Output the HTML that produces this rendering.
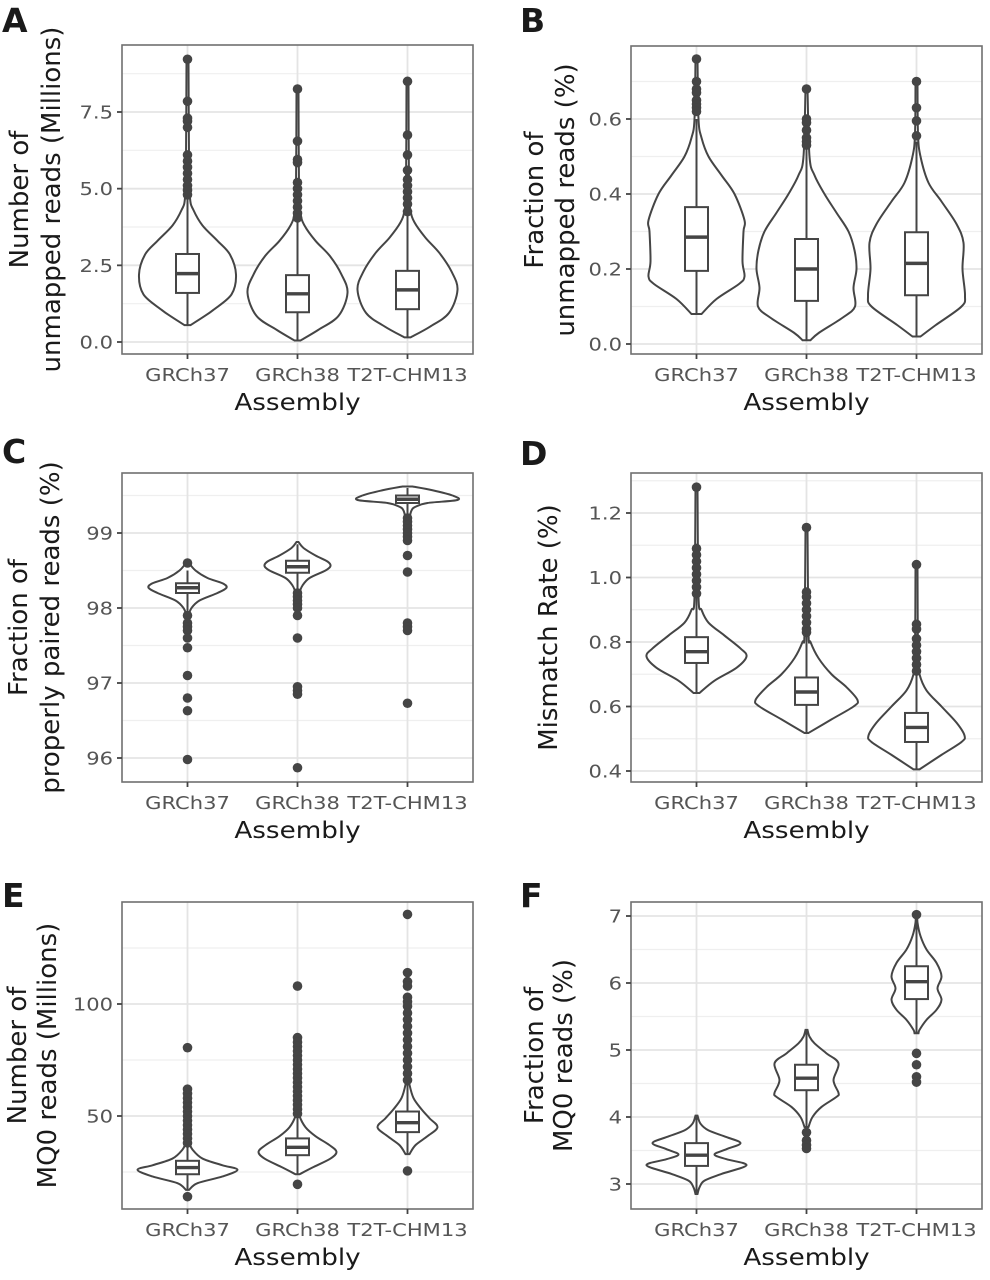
<!DOCTYPE html>
<html>
<head>
<meta charset="utf-8">
<style>
html,body{margin:0;padding:0;background:#fff;}
svg{display:block;}
text{font-family:"DejaVu Sans","Liberation Sans",sans-serif;}
</style>
</head>
<body>
<svg id="fig" width="990" height="1280" viewBox="0 0 990 1280" xmlns="http://www.w3.org/2000/svg"></svg>
<script>
// ---------- DATA ----------
const categories = ["GRCh37","GRCh38","T2T-CHM13"];

// Panel A: Number of unmapped reads (Millions)
const A_ticks = [0.0, 2.5, 5.0, 7.5];
const A_tickLabels = ["0.0","2.5","5.0","7.5"];
const A_box = [[1.6,2.23,2.87,0.55,4.75],[0.97,1.57,2.18,0.05,4.0],[1.07,1.7,2.32,0.15,4.2]];
const A_out = [[9.22,7.85,7.3,7.2,7.0,6.1,5.9,5.7,5.5,5.3,5.1,4.95,4.8],
               [8.25,6.55,5.95,5.85,5.2,5.0,4.8,4.6,4.4,4.2,4.05],
               [8.5,6.75,6.1,5.6,5.3,5.1,4.9,4.7,4.5,4.25]];
const A_violin = [
 [[0.55,0.06],[0.8,0.3],[1.05,0.52],[1.55,0.88],[2.2,0.97],[2.85,0.85],[3.3,0.6],[3.8,0.3],[4.3,0.12],[4.7,0.05],[6,0.03],[9.22,0.02]],
 [[0.05,0.06],[0.4,0.42],[0.85,0.82],[1.6,1.0],[2.2,0.88],[2.8,0.65],[3.3,0.36],[3.8,0.14],[4.2,0.06],[5,0.03],[8.25,0.02]],
 [[0.15,0.06],[0.5,0.45],[0.95,0.83],[1.7,1.0],[2.3,0.88],[2.9,0.64],[3.4,0.36],[3.9,0.14],[4.3,0.06],[5,0.03],[8.5,0.02]]
];

// Panel B: Fraction of unmapped reads (%)
const B_ticks = [0.0,0.2,0.4,0.6];
const B_tickLabels = ["0.0","0.2","0.4","0.6"];
const B_box = [[0.195,0.285,0.365,0.08,0.6],[0.115,0.2,0.28,0.01,0.52],[0.13,0.215,0.298,0.02,0.54]];
const B_out = [[0.76,0.70,0.68,0.67,0.65,0.64,0.63,0.62],
               [0.68,0.60,0.59,0.57,0.55,0.54,0.53],
               [0.70,0.63,0.595,0.555]];
const B_violin = [
 [[0.08,0.1],[0.12,0.4],[0.16,0.85],[0.18,0.96],[0.22,0.92],[0.3,0.94],[0.33,0.96],[0.4,0.76],[0.45,0.5],[0.5,0.24],[0.55,0.1],[0.6,0.04],[0.76,0.02]],
 [[0.01,0.08],[0.03,0.25],[0.07,0.72],[0.1,0.97],[0.15,0.94],[0.2,1.0],[0.25,0.96],[0.3,0.84],[0.35,0.6],[0.4,0.36],[0.45,0.16],[0.5,0.06],[0.68,0.02]],
 [[0.02,0.08],[0.05,0.38],[0.1,0.9],[0.13,0.97],[0.2,0.92],[0.27,0.94],[0.32,0.8],[0.38,0.5],[0.43,0.24],[0.5,0.08],[0.56,0.03],[0.70,0.02]]
];

// Panel C: Fraction of properly paired reads (%)
const C_ticks = [96,97,98,99];
const C_tickLabels = ["96","97","98","99"];
const C_box = [[98.2,98.27,98.33,97.95,98.5],[98.47,98.55,98.63,98.25,98.85],[99.4,99.45,99.5,99.22,99.6]];
const C_out = [[98.6,97.9,97.8,97.75,97.7,97.6,97.47,97.1,96.8,96.63,95.98],
               [98.2,98.15,98.1,98.05,98.0,97.9,97.6,96.95,96.9,96.85,95.87],
               [99.2,99.15,99.1,99.05,99.0,98.95,98.9,98.7,98.48,97.8,97.75,97.7,96.73]];
const C_violin = [
 [[97.9,0.02],[98.0,0.08],[98.1,0.24],[98.2,0.6],[98.27,0.78],[98.33,0.7],[98.4,0.4],[98.5,0.16],[98.6,0.03]],
 [[98.1,0.03],[98.2,0.04],[98.3,0.1],[98.4,0.24],[98.5,0.56],[98.56,0.66],[98.62,0.6],[98.7,0.36],[98.8,0.12],[98.88,0.02]],
 [[99.2,0.04],[99.3,0.08],[99.35,0.16],[99.4,0.4],[99.44,1.0],[99.5,0.9],[99.57,0.5],[99.62,0.1]]
];

// Panel D: Mismatch Rate (%)
const D_ticks = [0.4,0.6,0.8,1.0,1.2];
const D_tickLabels = ["0.4","0.6","0.8","1.0","1.2"];
const D_box = [[0.735,0.77,0.815,0.645,0.94],[0.605,0.645,0.69,0.52,0.83],[0.49,0.535,0.58,0.405,0.71]];
const D_out = [[1.28,1.09,1.07,1.05,1.03,1.01,0.99,0.97,0.95],
               [1.155,0.955,0.94,0.92,0.9,0.88,0.86,0.84,0.83],
               [1.04,0.855,0.84,0.81,0.79,0.77,0.75,0.73,0.71]];
const D_violin = [
 [[0.642,0.06],[0.68,0.36],[0.72,0.8],[0.755,1.0],[0.78,0.88],[0.82,0.56],[0.86,0.24],[0.9,0.1],[0.94,0.04],[1.28,0.02]],
 [[0.518,0.04],[0.56,0.5],[0.6,0.94],[0.62,1.02],[0.66,0.8],[0.7,0.5],[0.75,0.24],[0.8,0.08],[0.83,0.04],[1.155,0.02]],
 [[0.405,0.06],[0.45,0.5],[0.49,0.9],[0.51,0.96],[0.55,0.8],[0.6,0.5],[0.65,0.2],[0.7,0.06],[0.75,0.03],[1.04,0.02]]
];

// Panel E: Number of MQ0 reads (Millions)
const E_ticks = [50,100];
const E_tickLabels = ["50","100"];
const E_minor = [25,75,125];
const E_box = [[24,27,30,17,38],[32.5,36,40,24,50],[42.8,47,52,33,66]];
const E_out = [[14,80.5,62,60,58,56,54,52,50,48,46,44,42,40,38],
               [19.5,108,85,83,81,79,77,75,73,71,69,67,65,63,61,59,57,55,53,51],
               [25.5,140,114,110,108,103,101,99,96,93,90,87,84,81,78,75,72,69,66]];
const E_violin = [
 [[17,0.03],[20,0.2],[23,0.7],[26,1.0],[28,0.7],[31,0.3],[35,0.1],[38,0.04],[40,0.02]],
 [[24,0.04],[27,0.3],[31,0.66],[34,0.78],[37,0.64],[41,0.36],[45,0.16],[50,0.04],[54,0.02]],
 [[33,0.04],[37,0.16],[41,0.4],[45,0.6],[49,0.44],[53,0.28],[58,0.12],[64,0.04],[68,0.02]]
];

// Panel F: Fraction of MQ0 reads (%)
const F_ticks = [3,4,5,6,7];
const F_tickLabels = ["3","4","5","6","7"];
const F_box = [[3.27,3.43,3.61,2.85,4.02],[4.4,4.58,4.78,3.85,5.3],[5.76,6.02,6.25,5.25,6.9]];
const F_out = [[],[3.77,3.65,3.58,3.53],[7.02,4.95,4.78,4.6,4.52]];
const F_violin = [
 [[2.85,0.02],[2.95,0.06],[3.05,0.16],[3.15,0.5],[3.28,1.0],[3.37,0.6],[3.44,0.36],[3.52,0.6],[3.61,0.88],[3.7,0.6],[3.8,0.24],[3.9,0.08],[4.02,0.02]],
 [[3.85,0.04],[4.0,0.12],[4.15,0.3],[4.3,0.6],[4.36,0.64],[4.55,0.54],[4.8,0.64],[4.95,0.4],[5.1,0.16],[5.2,0.06],[5.3,0.02]],
 [[5.25,0.04],[5.3,0.06],[5.45,0.2],[5.6,0.4],[5.75,0.5],[5.92,0.42],[6.1,0.5],[6.3,0.4],[6.5,0.2],[6.7,0.08],[6.9,0.02],[7.02,0.02]]
];

// ---------- LAYOUT ----------
const panels = [
 {id:"a",letter:"A",lx:2,ly:32,left:122,right:473,top:45,bottom:354,t0:[0,342],t1:[7.5,112],ticks:A_ticks,labels:A_tickLabels,box:A_box,out:A_out,vio:A_violin,title:["Number of","unmapped reads (Millions)"],tx:[20,52]},
 {id:"b",letter:"B",lx:520,ly:32,left:631,right:982,top:46,bottom:354,t0:[0,344],t1:[0.6,119],ticks:B_ticks,labels:B_tickLabels,box:B_box,out:B_out,vio:B_violin,title:["Fraction of","unmapped reads (%)"],tx:[535,566]},
 {id:"c",letter:"C",lx:2,ly:463,left:122,right:473,top:473,bottom:782,t0:[96,758],t1:[99,533],ticks:C_ticks,labels:C_tickLabels,box:C_box,out:C_out,vio:C_violin,title:["Fraction of","properly paired reads (%)"],tx:[19,51]},
 {id:"d",letter:"D",lx:520,ly:465,left:631,right:982,top:473,bottom:782,t0:[0.4,771],t1:[1.2,513],ticks:D_ticks,labels:D_tickLabels,box:D_box,out:D_out,vio:D_violin,title:["Mismatch Rate (%)"],tx:[549]},
 {id:"e",letter:"E",lx:2,ly:907,left:122,right:473,top:902,bottom:1209,t0:[50,1116],t1:[100,1004],ticks:E_ticks,labels:E_tickLabels,minor:E_minor,box:E_box,out:E_out,vio:E_violin,title:["Number of","MQ0 reads (Millions)"],tx:[18,48]},
 {id:"f",letter:"F",lx:520,ly:907,left:631,right:982,top:902,bottom:1209,t0:[3,1184],t1:[7,916],ticks:F_ticks,labels:F_tickLabels,box:F_box,out:F_out,vio:F_violin,title:["Fraction of","MQ0 reads (%)"],tx:[535,564]}
];

const NS="http://www.w3.org/2000/svg";
const svg=document.getElementById('fig');
const INK="#454545";
const SW=2;
function mk(tag,attrs,parent){const e=document.createElementNS(NS,tag);for(const k in attrs)e.setAttribute(k,attrs[k]);(parent||svg).appendChild(e);return e;}

function smoothPath(pts){
  let d="M"+pts[0][0].toFixed(2)+","+pts[0][1].toFixed(2);
  for(let i=0;i<pts.length-1;i++){
    const p0=pts[i-1]||pts[i],p1=pts[i],p2=pts[i+1],p3=pts[i+2]||p2;
    const c1=[p1[0]+(p2[0]-p0[0])/6,p1[1]+(p2[1]-p0[1])/6];
    const c2=[p2[0]-(p3[0]-p1[0])/6,p2[1]-(p3[1]-p1[1])/6];
    d+="C"+c1[0].toFixed(2)+","+c1[1].toFixed(2)+" "+c2[0].toFixed(2)+","+c2[1].toFixed(2)+" "+p2[0].toFixed(2)+","+p2[1].toFixed(2);
  }
  return d;
}

panels.forEach(P=>{
  const g=mk('g',{});
  
  
  const y=v=>P.t0[1]+(v-P.t0[0])*(P.t1[1]-P.t0[1])/(P.t1[0]-P.t0[0]);
  const step=110, xc=i=>(P.left+P.right)/2+(i-1)*step;
  const maxHW=50;

  const L=mk('text',{x:P.lx,y:P.ly,'font-size':33,'font-weight':'bold',fill:'#1a1a1a','font-family':'Liberation Sans, sans-serif'},g);
  L.textContent=P.letter;
  
  

  mk('rect',{x:P.left,y:P.top,width:P.right-P.left,height:P.bottom-P.top,fill:'#fff'},g);
  const gg=mk('g',{},g);
  
  
  let minors=P.minor;
  if(!minors){minors=[];const st=P.ticks[1]-P.ticks[0];for(let i=-1;i<P.ticks.length;i++){minors.push(P.ticks[0]+st*(i+0.5));}}
  minors.forEach(v=>{const yy=y(v);if(yy>P.top&&yy<P.bottom)mk('line',{x1:P.left,x2:P.right,y1:yy,y2:yy,stroke:'#efefef','stroke-width':1.2},gg);});
  P.ticks.forEach(v=>{const yy=y(v);mk('line',{x1:P.left,x2:P.right,y1:yy,y2:yy,stroke:'#e4e4e4','stroke-width':1.8},gg);});
  categories.forEach((c,i)=>mk('line',{x1:xc(i),x2:xc(i),y1:P.top,y2:P.bottom,stroke:'#e4e4e4','stroke-width':1.8},gg));

  const cp=mk('clipPath',{id:'clip-'+P.id},g);
  mk('rect',{x:P.left,y:P.top,width:P.right-P.left,height:P.bottom-P.top},cp);
  const marks=mk('g',{'clip-path':'url(#clip-'+P.id+')'},g);

  categories.forEach((c,i)=>{
    const cx=xc(i);
    const prof=P.vio[i];
    const right=prof.map(p=>[cx+p[1]*maxHW,y(p[0])]);
    const left=prof.slice().reverse().map(p=>[cx-p[1]*maxHW,y(p[0])]);
    const d=smoothPath(right)+"L"+left[0][0].toFixed(2)+","+left[0][1].toFixed(2)+smoothPath(left).replace(/^M[^C]*/,'')+"Z";
    const vp=mk('path',{d:d,fill:'#fff',stroke:INK,'stroke-width':SW},marks);
    
    
    const b=P.box[i];
    const bw=11.5;
    const wl=mk('line',{x1:cx,x2:cx,y1:y(b[3]),y2:y(b[0]),stroke:INK,'stroke-width':SW},marks);
    
    
    const wh=mk('line',{x1:cx,x2:cx,y1:y(b[2]),y2:y(b[4]),stroke:INK,'stroke-width':SW},marks);
    
    
    P.out[i].forEach(v=>{
      const o=mk('circle',{cx:cx,cy:y(v),r:4.8,fill:INK},marks);
      
      
    });
    const bx=mk('rect',{x:cx-bw,y:y(b[2]),width:2*bw,height:y(b[0])-y(b[2]),fill:'#fff',stroke:INK,'stroke-width':SW},marks);
    
    
    const md=mk('line',{x1:cx-bw,x2:cx+bw,y1:y(b[1]),y2:y(b[1]),stroke:INK,'stroke-width':3.4},marks);
    
    
  });

  const br=mk('rect',{x:P.left,y:P.top,width:P.right-P.left,height:P.bottom-P.top,fill:'none',stroke:'#707070','stroke-width':1.6},g);
  
  

  P.ticks.forEach((v,k)=>{
    const yy=y(v);
    mk('line',{x1:P.left-5,x2:P.left,y1:yy,y2:yy,stroke:'#444','stroke-width':1.8},g);
    const t=mk('text',{x:0,y:0,'text-anchor':'end','font-size':18,fill:'#555',transform:'translate('+(P.left-9)+','+(yy+6.5)+') scale(1.17,1)'},g);
    t.textContent=P.labels[k];
    
    
  });
  categories.forEach((c,i)=>{
    mk('line',{x1:xc(i),x2:xc(i),y1:P.bottom,y2:P.bottom+5,stroke:'#444','stroke-width':1.8},g);
    const t=mk('text',{x:0,y:0,'text-anchor':'middle','font-size':18,fill:'#555',transform:'translate('+xc(i)+','+(P.bottom+27)+') scale(1.17,1)'},g);
    t.textContent=c;
    
    
  });
  const xt=mk('text',{x:0,y:0,'text-anchor':'middle','font-size':23,fill:'#1a1a1a',transform:'translate('+((P.left+P.right)/2)+','+(P.bottom+56)+') scale(1.14,1)'},g);
  xt.textContent="Assembly";
  
  
  const cy=(P.top+P.bottom)/2;
  P.title.forEach((s,k)=>{
    const t=mk('text',{x:P.tx[k],y:cy,'text-anchor':'middle','dominant-baseline':'central','font-size':26,fill:'#1a1a1a',transform:'rotate(-90 '+P.tx[k]+' '+cy+')'},g);
    t.textContent=s;
    
    
  });
});
</script>
</body>
</html>
